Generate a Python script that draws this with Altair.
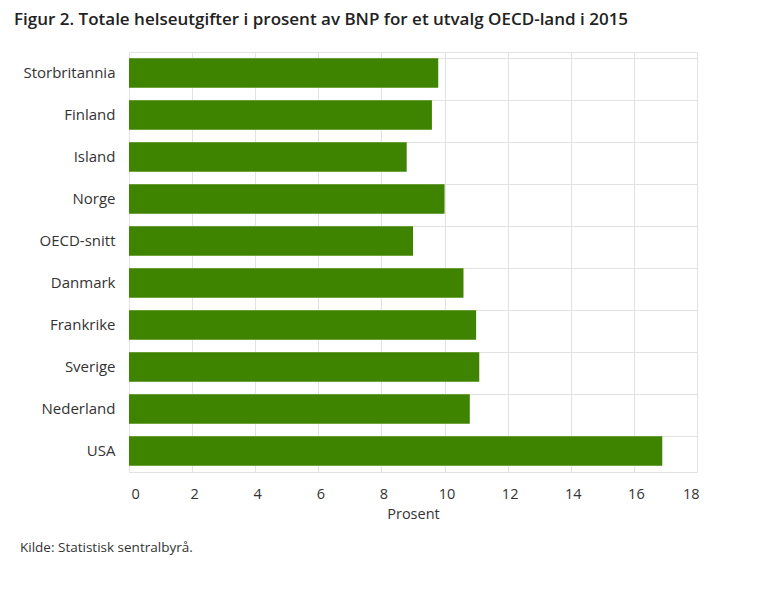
import altair as alt
import pandas as pd

countries = ["Storbritannia", "Finland", "Island", "Norge", "OECD-snitt",
             "Danmark", "Frankrike", "Sverige", "Nederland", "USA"]
values = [9.8, 9.6, 8.8, 10.0, 9.0, 10.6, 11.0, 11.1, 10.8, 16.9]
x_ticks = [0, 2, 4, 6, 8, 10, 12, 14, 16, 18]
title_text = "Figur 2. Totale helseutgifter i prosent av BNP for et utvalg OECD-land i 2015"
source_text = "Kilde: Statistisk sentralbyrå."

df = pd.DataFrame({"land": countries, "prosent": values})

FONT = "Open Sans"

bars = alt.Chart(df).mark_bar(color="#3f8400").encode(
    y=alt.Y("land:N", sort=countries,
            scale=alt.Scale(paddingInner=0.3, paddingOuter=0.15),
            axis=alt.Axis(title=None, ticks=False, domain=False, labelPadding=14,
                          labelFontSize=15, labelColor="#333333", labelFont=FONT,
                          grid=True, bandPosition=0, gridColor="#e2e2e2")),
    x=alt.X("prosent:Q", scale=alt.Scale(domain=[0, 18], nice=False),
            axis=alt.Axis(title="Prosent", values=x_ticks, ticks=False, domain=False,
                          labelPadding=15, labelFontSize=14.5, labelColor="#333333",
                          labelOffset=2,
                          labelFont=FONT, titleFont=FONT, titleFontSize=14.5,
                          titleFontWeight="normal", titleColor="#333333",
                          titlePadding=7, gridColor="#e2e2e2")),
)

source = alt.Chart(pd.DataFrame({"t": [source_text]})).mark_text(
    align="left", baseline="middle", font=FONT, fontSize=13.5, color="#333333"
).encode(x=alt.value(-109), y=alt.value(496), text="t:N")

chart = alt.layer(bars, source).properties(
    width=568, height=420,
    padding={"left": 121, "top": 44, "right": 60, "bottom": 100},
    autosize=alt.AutoSizeParams(type="none"),
    title=alt.TitleParams(title_text, anchor="start", frame="group", dx=-115,
                          offset=23, font=FONT, fontSize=17, fontWeight=600,
                          color="#222222"),
).configure_view(stroke="#e2e2e2", strokeWidth=1)

chart.save("out.html", embed_options={"renderer": "svg", "actions": False})
